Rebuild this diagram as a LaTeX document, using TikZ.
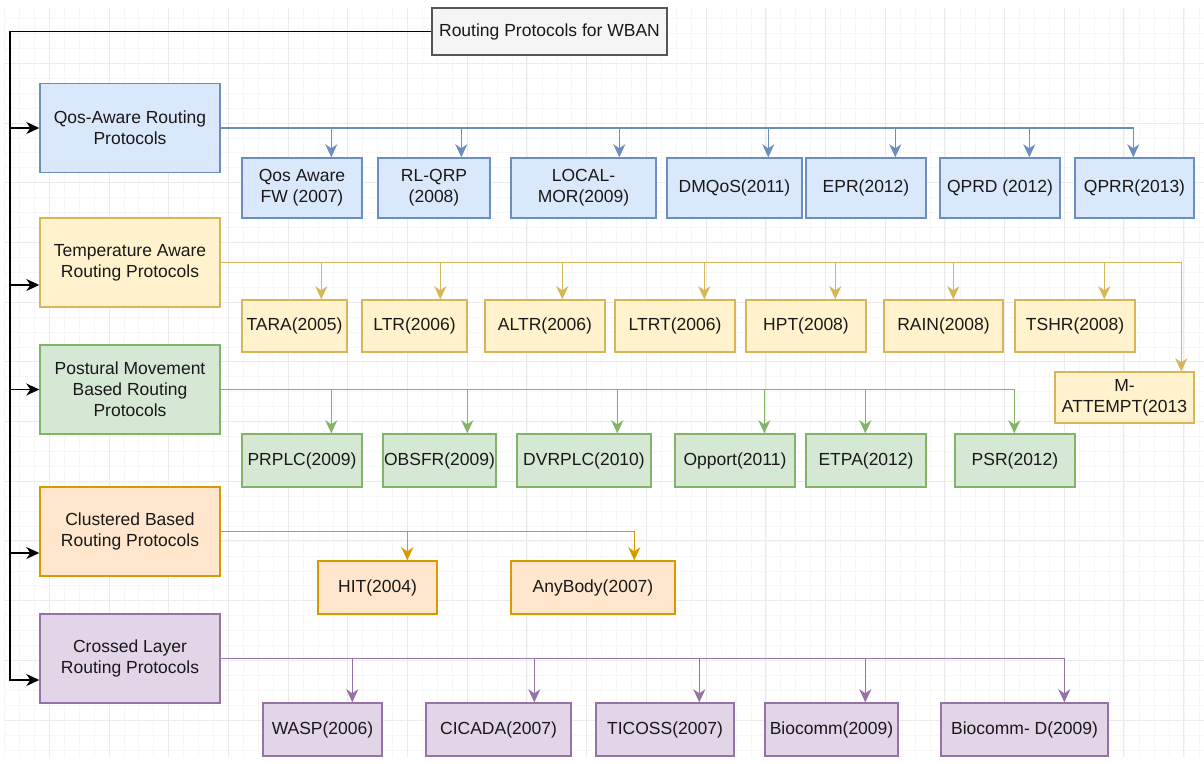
\documentclass[tikz,border=0pt]{standalone}
\usepackage{fontspec}
\setmainfont{Liberation Sans}
\usetikzlibrary{arrows.meta}% classic draw.io style arrow heads
\definecolor{qosfill}{HTML}{DAE8FC}\definecolor{qosdraw}{HTML}{6C8EBF}
\definecolor{tmpfill}{HTML}{FFF2CC}\definecolor{tmpdraw}{HTML}{D6B656}
\definecolor{posfill}{HTML}{D5E8D4}\definecolor{posdraw}{HTML}{82B366}
\definecolor{clufill}{HTML}{FFE6CC}\definecolor{cludraw}{HTML}{D79B00}
\definecolor{crsfill}{HTML}{E1D5E7}\definecolor{crsdraw}{HTML}{9673A6}
\definecolor{rootfill}{HTML}{F5F5F5}\definecolor{rootdraw}{HTML}{555555}
\tikzset{every node/.style={font=\fontsize{17.5}{21}\selectfont, text=black!90,
    align=center, inner sep=0pt},
  box/.style={draw, rectangle, line width=1.4pt},
  catbox/.style={box, minimum width=180, minimum height=89},
  qosbox/.style={box, fill=qosfill, draw=qosdraw},
  tmpbox/.style={box, fill=tmpfill, draw=tmpdraw},
  posbox/.style={box, fill=posfill, draw=posdraw},
  clubox/.style={box, fill=clufill, draw=cludraw},
  crsbox/.style={box, fill=crsfill, draw=crsdraw},
  link/.style={line width=1.5pt, -{Stealth[length=13pt,width=12pt,inset=4pt]}},
  gridminor/.style={line width=0.8pt, black!3},
  gridmajor/.style={line width=1pt, black!8}}

\begin{document}
\begin{tikzpicture}[x=1pt,y=-1pt]
\useasboundingbox (0,0) rectangle (1204,763);
% background grid
\foreach \x in {4.5,19.43,...,1204} \draw[gridminor] (\x,8) -- (\x,757);
\foreach \y in {18.5,33.43,...,757} \draw[gridminor] (4.5,\y) -- (1204,\y);
\foreach \x in {49.3,109,...,1204} \draw[gridmajor] (\x,8) -- (\x,757);
\foreach \y in {63.3,123,...,757} \draw[gridmajor] (4.5,\y) -- (1204,\y);

\node[box, fill=rootfill, draw=rootdraw, minimum width=235, minimum height=47]
  (root) at (549.5,31.5) {Routing Protocols for WBAN};

% categories
\node[catbox, qosbox] (qos) at (130,128) {Qos-Aware Routing\\Protocols};
\node[catbox, tmpbox] (tmp) at (130,262.5) {Temperature Aware\\Routing Protocols};
\node[catbox, posbox] (pos) at (130,389.5) {Postural Movement\\Based Routing\\Protocols};
\node[catbox, clubox] (clu) at (130,531.5) {Clustered Based\\Routing Protocols};
\node[catbox, crsbox] (crs) at (130,658.5) {Crossed Layer\\Routing Protocols};

% trunk
\coordinate (trunk) at (10,680);
\draw[link, black] (root.west) -| (trunk) -- (crs.west |- trunk);
\foreach \c/\dy in {qos/0,tmp/-22.5,pos/0,clu/-21.5}
  \draw[link, black] ([yshift=\dy pt]\c.west -| trunk) -- ([yshift=\dy pt]\c.west);

% leaves: name/left/right/arrow x/label
\foreach \n/\xa/\xb/\ax/\lbl in {q1/242/362/332/{Qos Aware\\FW (2007)},
    q2/378/490/462/{RL-QRP\\(2008)}, q3/511/656/620/{LOCAL-\\MOR(2009)},
    q4/667/802/769/{DMQoS(2011)}, q5/806/926/896/{EPR(2012)},
    q6/940/1060/1030/{QPRD (2012)}, q7/1075/1194/1134/{QPRR(2013)}}{
  \node[qosbox, minimum width=\xb-\xa, minimum height=60] (\n) at ({(\xa+\xb)/2},188) {\lbl};
  \draw[link, qosdraw] (qos.east) -| ([xshift=\ax pt-\xa pt]\n.north west);
}
\foreach \n/\xa/\xb/\ax/\lbl in {t1/242/347/322/{TARA(2005)},
    t2/362/467/441/{LTR(2006)}, t3/485/605/563/{ALTR(2006)},
    t4/615/735/705/{LTRT(2006)}, t5/746/866/836/{HPT(2008)},
    t6/884/1003/954/{RAIN(2008)}, t7/1015/1135/1105/{TSHR(2008)}}{
  \node[tmpbox, minimum width=\xb-\xa, minimum height=52] (\n) at ({(\xa+\xb)/2},326) {\lbl};
  \draw[link, tmpdraw] (tmp.east) -| ([xshift=\ax pt-\xa pt]\n.north west);
}
\node[tmpbox, minimum width=139, minimum height=51] (t8) at (1124.5,397.5) {M-\\ATTEMPT(2013};
\draw[link, tmpdraw] (tmp.east) -| ([xshift=127pt]t8.north west);

\foreach \n/\xa/\xb/\ax/\lbl in {p1/242/362/332/{PRPLC(2009)},
    p2/383/496/468/{OBSFR(2009)}, p3/517/651/618/{DVRPLC(2010)},
    p4/675/795/765/{Opport(2011)}, p5/806/926/866/{ETPA(2012)},
    p6/955/1075/1015/{PSR(2012)}}{
  \node[posbox, minimum width=\xb-\xa, minimum height=53] (\n) at ({(\xa+\xb)/2},460.5) {\lbl};
  \draw[link, posdraw] (pos.east) -| ([xshift=\ax pt-\xa pt]\n.north west);
}
\foreach \n/\xa/\xb/\ax/\lbl in {c1/318/437/408/{HIT(2004)},
    c2/511/675/635/{AnyBody(2007)}}{
  \node[clubox, minimum width=\xb-\xa, minimum height=53] (\n) at ({(\xa+\xb)/2},587.5) {\lbl};
  \draw[link, cludraw] (clu.east) -| ([xshift=\ax pt-\xa pt]\n.north west);
}
\foreach \n/\xa/\xb/\ax/\lbl in {x1/263/382/353/{WASP(2006)},
    x2/426/571/535/{CICADA(2007)}, x3/596/734/700/{TICOSS(2007)},
    x4/765/898/866/{Biocomm(2009)}, x5/941/1108/1065/{Biocomm- D(2009)}}{
  \node[crsbox, minimum width=\xb-\xa, minimum height=53] (\n) at ({(\xa+\xb)/2},729.5) {\lbl};
  \draw[link, crsdraw] (crs.east) -| ([xshift=\ax pt-\xa pt]\n.north west);
}
\end{tikzpicture}
\end{document}
